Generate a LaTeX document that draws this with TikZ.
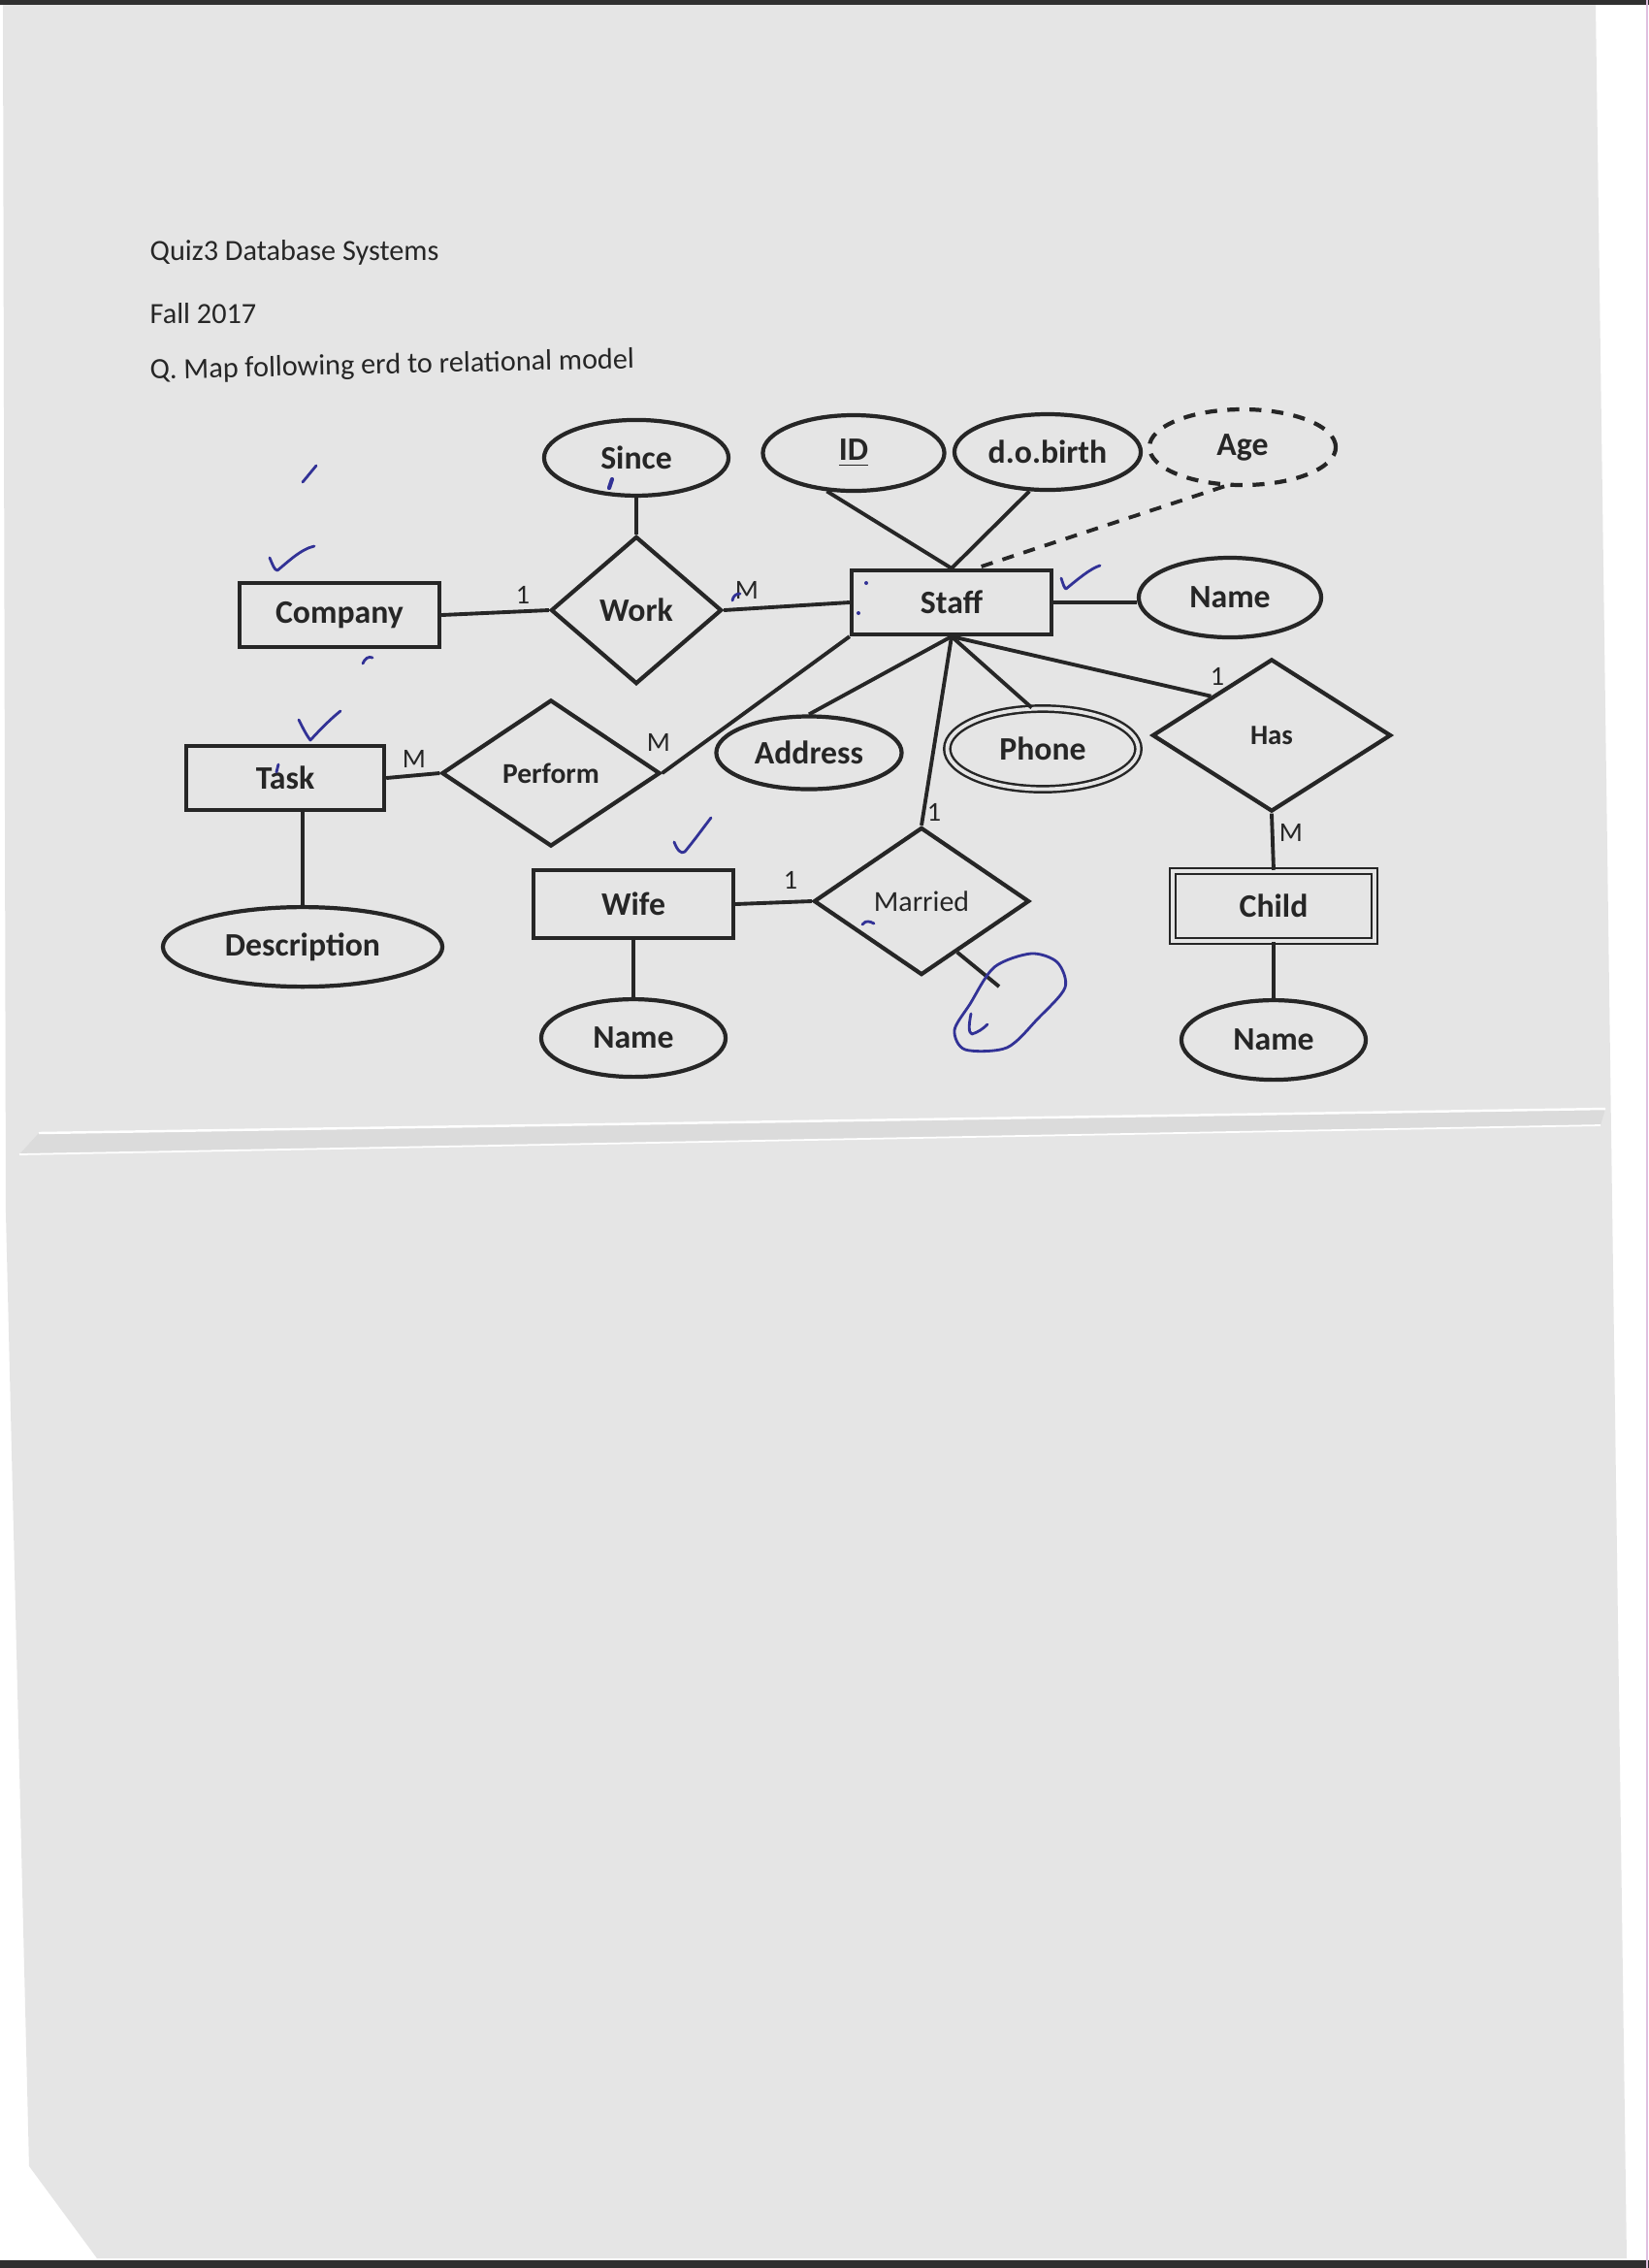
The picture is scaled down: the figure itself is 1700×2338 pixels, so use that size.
\documentclass[tikz,border=0pt]{standalone}
\usepackage{fontspec}
\setmainfont{Carlito}
\usepackage{xcolor}
\usetikzlibrary{shapes.geometric, positioning}
\definecolor{paper}{RGB}{229,229,229}
\definecolor{foldShade}{RGB}{219,219,219}
\definecolor{scanEdge}{RGB}{48,48,48}
\definecolor{printInk}{RGB}{38,38,38}
\definecolor{pen}{RGB}{50,50,150}
\tikzstyle{eEntity} = [rectangle, draw=printInk, line width=1.2pt, minimum width=2.06cm, minimum height=0.66cm, inner sep=0pt, text=printInk, font=\fontsize{9.6}{11}\selectfont\bfseries]
\tikzstyle{eWeak} = [eEntity, double=paper, double distance=1.1pt, line width=0.7pt]
\tikzstyle{eAttr} = [ellipse, draw=printInk, line width=1.2pt, minimum width=1.9cm, minimum height=0.78cm, inner sep=0pt, text=printInk, font=\fontsize{9.6}{11}\selectfont\bfseries]
\tikzstyle{eMulti} = [eAttr, double=paper, double distance=1.1pt, line width=0.7pt]
\tikzstyle{eDerived} = [eAttr, dash pattern=on 3.5pt off 3pt]
\tikzstyle{eRel} = [diamond, draw=printInk, line width=1.2pt, inner sep=0pt, text=printInk, font=\fontsize{9.6}{11}\selectfont\bfseries]
\tikzstyle{eLine} = [draw=printInk, line width=1.1pt]
\tikzstyle{eCard} = [inner sep=0pt, text=printInk, font=\fontsize{8}{9}\selectfont]
\tikzstyle{eTitle} = [anchor=west, inner sep=0pt, text=printInk, font=\fontsize{8.6}{10}\selectfont]
\tikzstyle{ePen} = [draw=pen, line width=0.8pt, line cap=round, line join=round]

\begin{document}
\begin{tikzpicture}[x=0.01cm, y=-0.01cm, node distance=1.38cm]
    \useasboundingbox (0,0) rectangle (1700,2338);
    \fill [white] (0,0) rectangle (1700,2338);
    \fill [paper] (3,5) -- (1645,5) -- (1677,2328) -- (100,2328) -- (30,2233) -- (6,1250) -- cycle;
    \fill [foldShade] (40,1168) -- (1655,1143) -- (1650,1160) -- (20,1190) -- cycle;
    \draw [white, line width=0.7pt] (40,1168) -- (1655,1143);
    \draw [white, line width=0.5pt] (20,1190) -- (1650,1160);
    \fill [scanEdge] (0,0) rectangle (1700,5);
    \fill [scanEdge] (0,2330) rectangle (1700,2338);
    \draw [violet!25, line width=0.5pt] (1698,0) -- (1698,2338);

    \node (title) [eTitle] at (154,260) {Quiz3 Database Systems};
    \node (term) [eTitle] at (154,323) {Fall 2017};
    \node (question) [eTitle, rotate=1.3] at (154,383) {Q. Map following erd to relational model};

    \node (company) [eEntity] at (350,634) {Company};
    \node (work) [eRel, minimum width=1.76cm, minimum height=1.52cm] at (656,629) {Work};
    \node (since) [eAttr, above of=work, yshift=0.19cm] {Since};
    \node (staff) [eEntity] at (981,621) {Staff};
    \node (id) [eAttr, minimum width=1.87cm] at (880,467) {\underline{ID}};
    \node (dob) [eAttr, minimum width=1.92cm] at (1080,466) {d.o.birth};
    \node (age) [eDerived, minimum width=1.92cm] at (1281,461) {Age};
    \node (name) [eAttr, minimum width=1.88cm, minimum height=0.82cm] at (1268,616) {Name};
    \node (task) [eEntity, minimum width=2.04cm] at (294,802) {Task};
    \node (perform) [eRel, minimum width=2.25cm, minimum height=1.51cm, font=\fontsize{8.4}{10}\selectfont\bfseries] at (568,797) {Perform};
    \node (desc) [eAttr, below of=task, xshift=0.18cm, yshift=-0.36cm, minimum width=2.88cm, minimum height=0.82cm] {Description};
    \node (address) [eAttr, minimum width=1.91cm, minimum height=0.75cm] at (834,776) {Address};
    \node (phone) [eMulti, minimum width=1.97cm, minimum height=0.83cm] at (1075,772) {Phone};
    \node (has) [eRel, minimum width=2.46cm, minimum height=1.57cm, font=\fontsize{8.2}{10}\selectfont\bfseries] at (1311,758) {Has};
    \node (married) [eRel, minimum width=2.22cm, minimum height=1.52cm, font=\fontsize{8.5}{10}\selectfont] at (950,929) {Married};
    \node (wife) [eEntity, minimum height=0.7cm] at (653,932) {Wife};
    \node (wifeName) [eAttr, below of=wife, minimum height=0.8cm] {Name};
    \node (child) [eWeak, minimum width=2.08cm, minimum height=0.72cm] at (1313,934) {Child};
    \node (childName) [eAttr, below of=child, minimum height=0.82cm] {Name};
    \coordinate (marriedEnd) at (1030,1017);

    \node (cardA) [eCard] at (539,613) {1};
    \node (cardB) [eCard] at (770,608) {M};
    \node (cardC) [eCard] at (427,782) {M};
    \node (cardD) [eCard] at (679,765) {M};
    \node (cardE) [eCard] at (1255,697) {1};
    \node (cardF) [eCard] at (1331,858) {M};
    \node (cardG) [eCard] at (963,837) {1};
    \node (cardH) [eCard] at (815,907) {1};

    \draw [eLine] (company.east) -- (work.west);
    \draw [eLine] (since) -- (work);
    \draw [eLine] (work.east) -- (staff.west);
    \draw [eLine] (id.-125) -- (staff.north);
    \draw [eLine] (dob.-115) -- (staff.north);
    \draw [eLine, dash pattern=on 3.5pt off 3pt] (age.-115) -- ([xshift=0.25cm]staff.north);
    \draw [eLine] (staff.east) -- (staff.east -| name.west);
    \draw [eLine] (staff.south west) -- (perform.east);
    \draw [eLine] (perform.west) -- (task.east);
    \draw [eLine] (desc.north |- task.south) -- (desc.north);
    \draw [eLine] (staff.south) -- (address.north);
    \draw [eLine] (staff.south) -- (phone.105);
    \draw [eLine] (staff.south) -- (married.north);
    \draw [eLine] (staff.south) -- (has.north west);
    \draw [eLine] (wife.east) -- (married.west);
    \draw [eLine] (wife.south) -- (wifeName.north);
    \draw [eLine] (has.south) -- (child.north);
    \draw [eLine] (child.south) -- (childName.north);
    \draw [eLine] (married.-55) -- (marriedEnd);

    \draw [ePen] (312,497) -- (326,480);
    \draw [ePen] (278,575) .. controls (281,582) and (283,588) .. (286,588) .. controls (296,580) and (310,566) .. (324,563);
    \draw [ePen] (374,684) .. controls (376,679) and (380,676) .. (384,678);
    \draw [ePen, line width=1.2pt] (628,503) -- (631,494);
    \draw [ePen] (755,619) .. controls (756,614) and (759,612) .. (763,612);
    \draw [ePen] (308,742) .. controls (312,750) and (316,758) .. (320,763) .. controls (330,752) and (342,740) .. (351,733);
    \draw [ePen] (285,796) -- (287,788);
    \draw [ePen] (695,868) .. controls (698,876) and (702,881) .. (706,878) .. controls (716,866) and (726,852) .. (733,843);
    \draw [ePen] (1094,596) .. controls (1096,602) and (1097,606) .. (1099,607) .. controls (1110,598) and (1124,586) .. (1134,583);
    \fill [pen] (893,601) circle (2);
    \fill [pen] (885,632) circle (2);
    \draw [ePen] (889,953) .. controls (893,948) and (897,950) .. (901,952);
    \draw [ePen] plot [smooth cycle] coordinates {(1025,997) (1063,983) (1090,992) (1098,1018) (1070,1050) (1038,1080) (995,1082) (984,1062) (1000,1035)};
    \draw [ePen] (1001,1045) .. controls (999,1055) and (998,1065) .. (1002,1066) .. controls (1008,1064) and (1013,1061) .. (1018,1056);
\end{tikzpicture}
\end{document}
